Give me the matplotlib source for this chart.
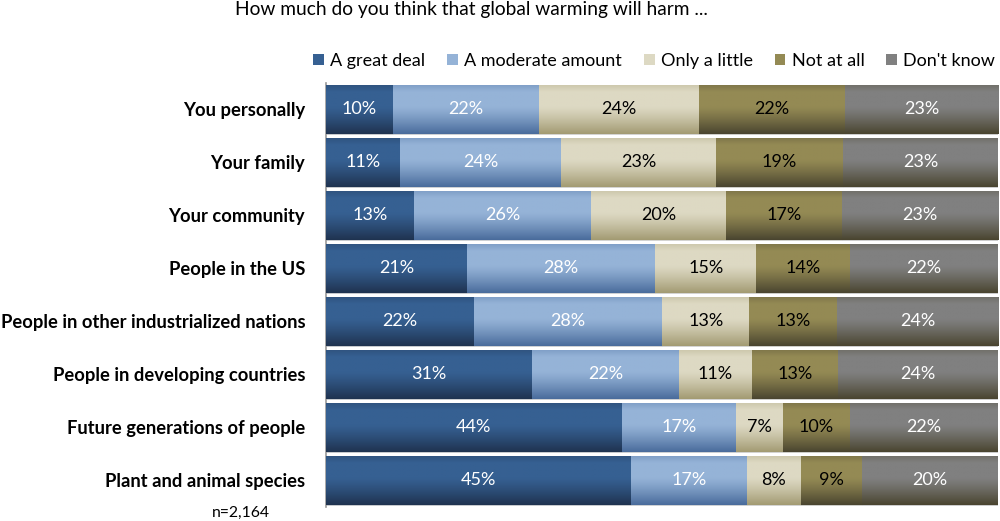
import numpy as np
import matplotlib.pyplot as plt
from matplotlib.colors import to_rgb
from matplotlib.patches import Patch

plt.rcParams['font.family'] = ['Lato', 'DejaVu Sans']

categories = [
    "You personally",
    "Your family",
    "Your community",
    "People in the US",
    "People in other industrialized nations",
    "People in developing countries",
    "Future generations of people",
    "Plant and animal species",
]
series_names = ["A great deal", "A moderate amount", "Only a little", "Not at all", "Don't know"]
great_deal = [10, 11, 13, 21, 22, 31, 44, 45]
moderate = [22, 24, 26, 28, 28, 22, 17, 17]
little = [24, 23, 20, 15, 13, 11, 7, 8]
not_at_all = [22, 19, 17, 14, 13, 13, 10, 9]
dont_know = [23, 23, 23, 22, 24, 24, 22, 20]

top_colors = ['#366092', '#95B3D7', '#DDD9C3', '#948A54', '#808080']
bottom_colors = ['#1F3350', '#4A6C9C', '#A39B73', '#4A4530', '#4A4530']
text_colors = ['white', 'white', 'black', 'black', 'white']

values = np.array([great_deal, moderate, little, not_at_all, dont_know], dtype=float)
shares = values / values.sum(axis=0) * 100

fig = plt.figure(figsize=(10, 5.21), dpi=100)
ax = fig.add_axes([0.326, 0.027, 0.672, 0.814])

y = np.arange(len(categories))[::-1]
t = np.linspace(0, 1, 60)
mix = np.clip((t - 0.45) / 0.55, 0, 1) ** 1.2
top_dark = np.clip(1 - t / 0.15, 0, 1) * 0.3

left = np.zeros(len(categories))
for i, name in enumerate(series_names):
    bars = ax.barh(y, shares[i], left=left, height=0.93, color=top_colors[i],
                   edgecolor='#d0d0d0', linewidth=0.6, label=name, zorder=2)
    c0 = np.array(to_rgb(top_colors[i]))
    c1 = np.array(to_rgb(bottom_colors[i]))
    grad = c0 * (1 - mix[:, None]) + c1 * mix[:, None]
    grad = grad * (1 - top_dark[:, None]) + c1 * top_dark[:, None]
    grad = grad[:, None, :]
    for b, v, pct in zip(bars, shares[i], values[i]):
        x0, y0 = b.get_x(), b.get_y()
        im = ax.imshow(grad, extent=[x0, x0 + b.get_width(), y0, y0 + b.get_height()],
                       origin='upper', aspect='auto', interpolation='bilinear', zorder=3)
        im.set_clip_path(b)
        ax.text(x0 + b.get_width() / 2, y0 + b.get_height() / 2, f"{pct:.0f}%",
                ha='center', va='center', color=text_colors[i], fontsize=13, zorder=4)
    left += shares[i]

ax.set_xlim(0, 100)
ax.set_ylim(-0.5, len(categories) - 0.5)
ax.set_yticks(y)
ax.set_yticklabels(categories, fontsize=13.2, fontweight='bold')
ax.tick_params(axis='y', length=0, pad=15)
ax.set_xticks([])
for s in ['top', 'right', 'bottom']:
    ax.spines[s].set_visible(False)
ax.spines['left'].set_color('#999999')
ax.spines['left'].set_linewidth(1.2)

handles = [Patch(facecolor=c, edgecolor='none') for c in top_colors]
fig.legend(handles, series_names, loc='center right', bbox_to_anchor=(1.008, 0.883),
           ncol=5, frameon=False, fontsize=13, handlelength=0.6, handleheight=0.6,
           handletextpad=0.35, columnspacing=1.2, borderpad=0.2)

fig.text(0.471, 0.981, "How much do you think that global warming will harm ...",
         ha='center', va='center', fontsize=13.8)
fig.text(0.241, 0.015, "n=2,164", ha='center', va='center', fontsize=11.3)

fig.savefig('out.png', dpi=100)
